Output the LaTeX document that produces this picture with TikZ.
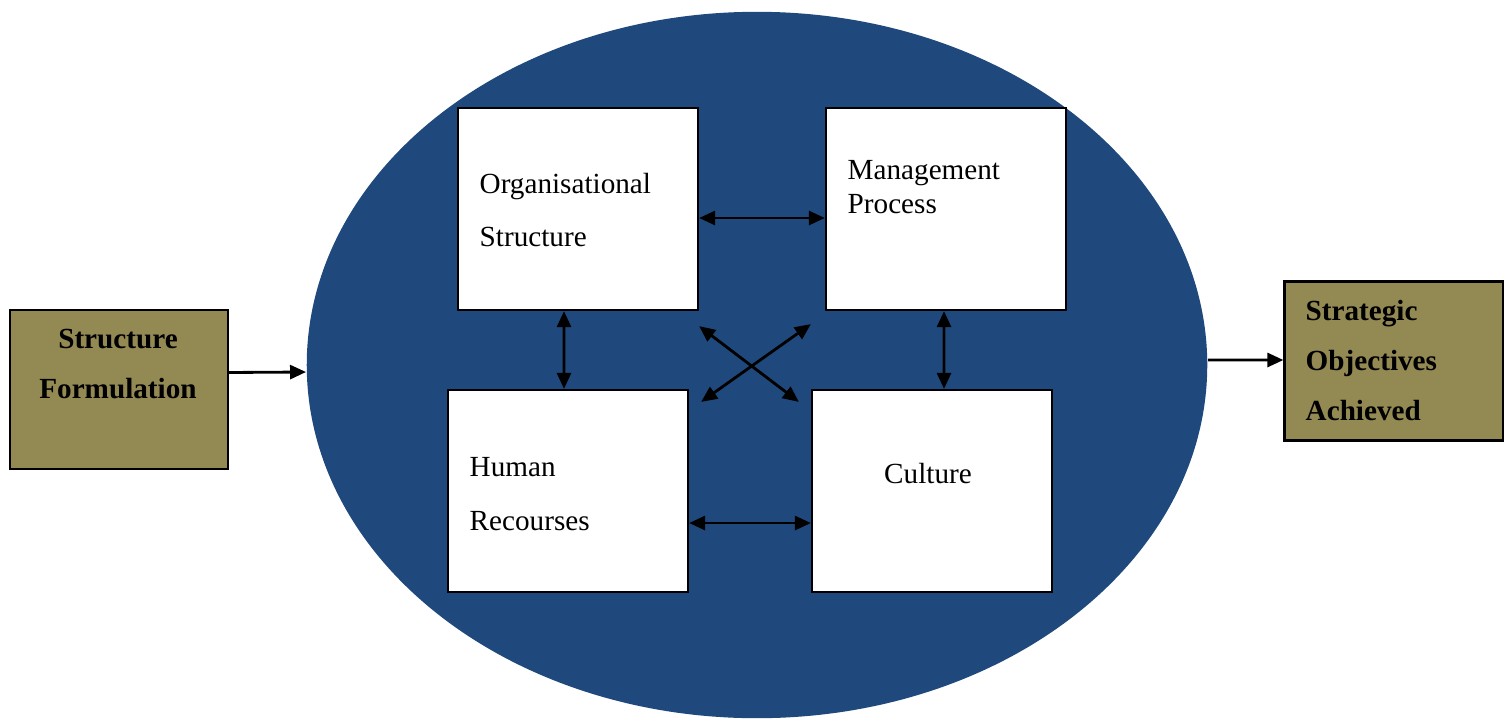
\documentclass[tikz,border=0pt]{standalone}
\usepackage{fontspec}
\setmainfont{Liberation Serif}
\usetikzlibrary{shapes.geometric,arrows.meta}
\definecolor{azulfondo}{RGB}{31,73,125}
\definecolor{oliva}{RGB}{147,137,83}
\tikzset{
	caja/.style={draw, line width=0.6pt, fill=white, minimum width=2.4cm, minimum height=2.02cm, inner sep=0pt},
	cajaoliva/.style={draw, line width=0.6pt, fill=oliva, minimum width=2.18cm, minimum height=1.59cm, inner sep=0pt},
	texto/.style={font=\fontsize{8.3}{14.2}\selectfont, align=left, inner sep=0pt},
	negrita/.style={font=\bfseries\fontsize{8.3}{14.2}\selectfont, inner sep=0pt},
	flecha/.style={line width=0.8pt, -{Triangle[length=0.16cm,width=0.14cm]}},
	dobleflecha/.style={line width=0.8pt, {Triangle[length=0.16cm,width=0.14cm]}-{Triangle[length=0.16cm,width=0.14cm]}}
}
\begin{document}
\begin{tikzpicture}[x=0.01cm,y=-0.01cm]
		\useasboundingbox (0,0) rectangle (1509,718);
		%elipse
		\node[ellipse, fill=azulfondo, minimum width=9cm, minimum height=7.06cm, inner sep=0pt] at (757,365) (nucleo) {};
		%%%% CAJAS!!!
		\node[caja] at (578,209) (org) {};
		\node[caja] at (946,209) (mgmt) {};
		\node[caja] at (568,491) (hum) {};
		\node[caja] at (932,491) (cult) {};
		\node[cajaoliva] at (119,389.5) (form) {};
		\node[cajaoliva] at (1393.5,361) (obj) {};
		%textos (base = ultima linea)
		\node[texto, anchor=base west] at (479,246) (orgtxt) {Organisational\\[0.7pt]Structure};
		\node[texto, anchor=base west, font=\fontsize{8.3}{9.4}\selectfont] at (847,213) (mgmttxt) {Management\\Process};
		\node[texto, anchor=base west] at (469,530) (humtxt) {Human\\[1pt]Recourses};
		\node[texto, anchor=base] at (928,483) (culttxt) {Culture};
		\node[negrita, anchor=base, align=center] at (118,398) (formtxt) {Structure\\Formulation};
		\node[negrita, anchor=base west, align=left] at (1305,420) (objtxt) {Strategic\\Objectives\\Achieved};
		%flechas
		\draw [dobleflecha] ([yshift=-0.09cm]org.east) -- ([yshift=-0.09cm]mgmt.west);
		\draw [dobleflecha] ([yshift=-0.32cm]hum.east) -- ([yshift=-0.32cm]cult.west);
		\draw [dobleflecha] ([xshift=-0.14cm]org.south) -- ([xshift=-0.04cm]hum.north);
		\draw [dobleflecha] ([xshift=-0.02cm]mgmt.south) -- ([xshift=0.12cm]cult.north);
		\draw [dobleflecha] ([yshift=-0.15cm]org.south east) -- ([xshift=-0.12cm,yshift=-0.13cm]cult.north west);
		\draw [dobleflecha] ([xshift=0.12cm,yshift=-0.13cm]hum.north east) -- ([xshift=-0.14cm,yshift=-0.13cm]mgmt.south west);
		\draw [flecha] ([yshift=0.17cm]form.east) -- ([yshift=-0.07cm]nucleo.west);
		\draw [flecha] ([yshift=0.05cm]nucleo.east) -- ([yshift=0.01cm]obj.west);
\end{tikzpicture}
\end{document}
